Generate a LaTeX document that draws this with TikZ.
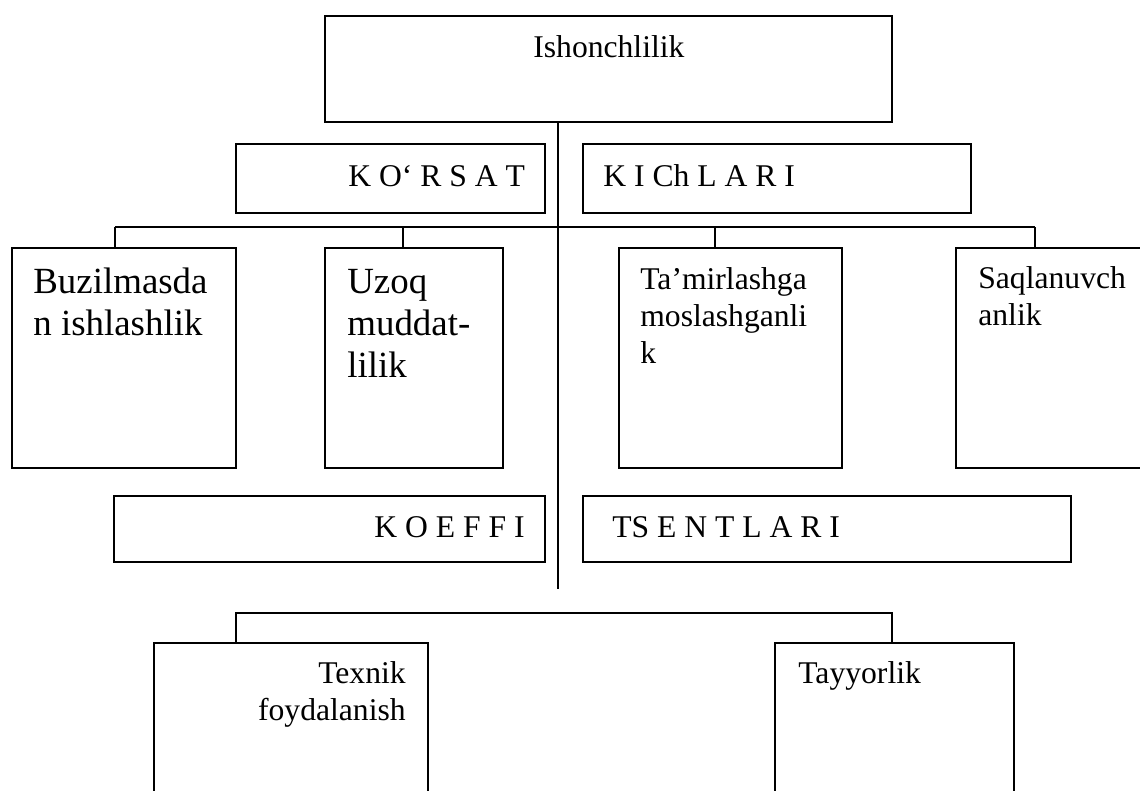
\documentclass[tikz,border=0pt]{standalone}
\usepackage{fontspec}
\setmainfont{Liberation Serif}

\begin{document}
\begin{tikzpicture}[
    x=0.02cm, y=-0.02cm,
    quti/.style={draw, line width=0.9pt, inner sep=0pt},
    olcham/.style 2 args={minimum width=#1*0.02cm, minimum height=#2*0.02cm},
    chiziq/.style={line width=0.8pt},
    matn/.style={inner sep=0pt, anchor=base west, align=left,
                 font=\fontsize{18}{21}\selectfont},
    katta/.style={matn, font=\fontsize{21}{23.8}\selectfont}
  ]
    \clip (0,0) rectangle (1140,791);
    % qutilar
    \node[quti, olcham={567}{106}] (ishonch) at (608.5,69) {};
    \node[quti, olcham={309}{69}] (korsat) at (390.5,178.5) {};
    \node[quti, olcham={388}{69}] (kichlari) at (777,178.5) {};
    \node[quti, olcham={224}{220}] (buzil) at (124,358) {};
    \node[quti, olcham={178}{220}] (uzoq) at (414,358) {};
    \node[quti, olcham={223}{220}] (tamir) at (730.5,358) {};
    \node[quti, olcham={204}{220}] (saqla) at (1058,358) {};
    \node[quti, olcham={431}{66}] (koeffi) at (329.5,529) {};
    \node[quti, olcham={488}{66}] (tsentlari) at (827,529) {};
    \node[quti, olcham={274}{197}] (texnik) at (291,741.5) {};
    \node[quti, olcham={239}{197}] (tayyor) at (894.5,741.5) {};
    % matnlar (ko'p qatorlilarda oxirgi qator tayanch chizig'i)
    \node[matn] (m-ishonch) at (533,57) {Ishonchlilik};
    \node[matn] (m-korsat) at (348,186) {K O‘ R S A T};
    \node[matn] (m-kichlari) at (603,186) {K I Ch L A R I};
    \node[katta] (m-buzil) at (33,335) {Buzilmasda\\n ishlashlik};
    \node[katta] (m-uzoq) at (347,377) {Uzoq\\muddat-\\lilik};
    \node[matn] (m-tamir) at (640,363) {Ta’mirlashga\\moslashganli\\k};
    \node[matn] (m-saqla) at (978,325) {Saqlanuvch\\anlik};
    \node[matn] (m-koeffi) at (374,537) {K O E F F I};
    \node[matn] (m-tsentlari) at (612,537) {TS E N T L A R I};
    \node[matn, anchor=base east, align=right] (m-texnik) at (406,720) {Texnik\\foydalanish};
    \node[matn] (m-tayyor) at (798,683) {Tayyorlik};
    % tarmoq chiziqlari
    \coordinate (o) at (558,589);
    \coordinate (a1) at (115,227);
    \coordinate (a2) at (403,227);
    \coordinate (a3) at (715,227);
    \coordinate (a4) at (1035,227);
    \coordinate (p1) at (236,613);
    \coordinate (p2) at (892,613);
    \draw[chiziq] (ishonch.south -| o) -- (o);
    \draw[chiziq] (a1) -- (a4);
    \foreach \a/\b in {a1/buzil, a2/uzoq, a3/tamir, a4/saqla}
      \draw[chiziq] (\a) -- (\a |- \b.north);
    \draw[chiziq] (p1 |- texnik.north) -- (p1) -- (p2) -- (p2 |- tayyor.north);
\end{tikzpicture}
\end{document}
